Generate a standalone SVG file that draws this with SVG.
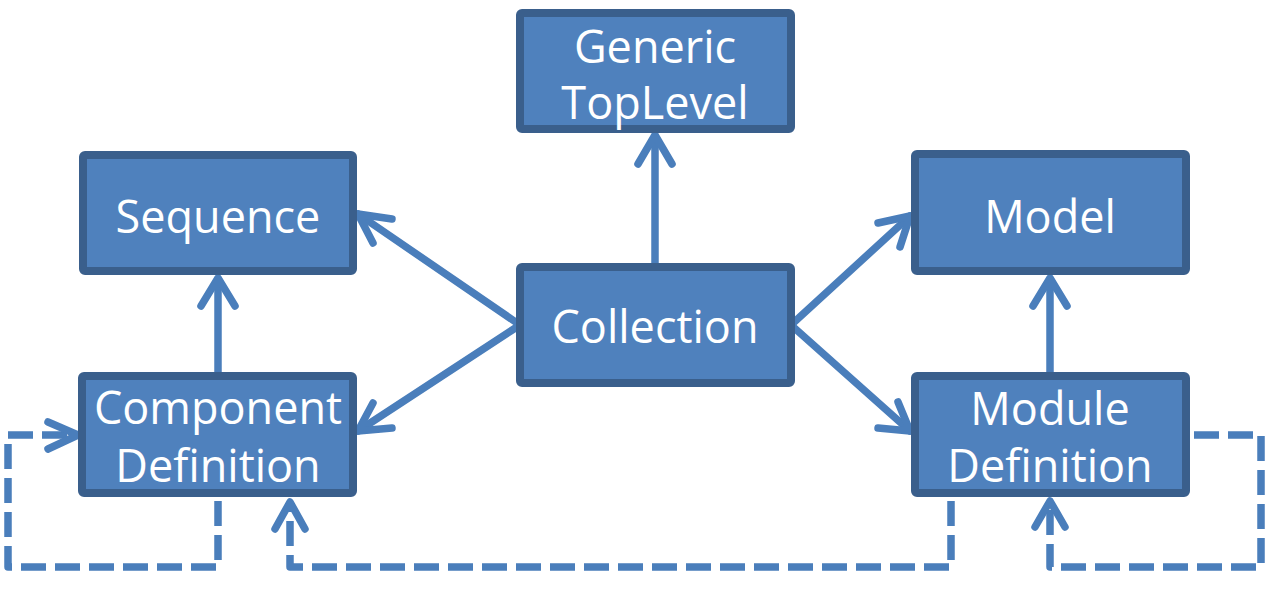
<svg xmlns="http://www.w3.org/2000/svg" width="1273" height="590" viewBox="0 0 1273 590">
<style>
.box{fill:#4F81BD;stroke:#3A5F8C;stroke-width:8;}
.lbl{font-family:"Open Sans","Liberation Sans",sans-serif;font-size:45px;fill:#FFFFFF;text-anchor:middle;}
.ln{fill:none;stroke:#4A7EBB;stroke-width:7.5;stroke-linecap:round;stroke-linejoin:round;}
.dash{fill:none;stroke:#4A7EBB;stroke-width:7.5;stroke-dasharray:25 9;stroke-linejoin:round;}
</style>
<rect width="1273" height="590" fill="#FFFFFF"/>
<g id="connectors">
<path class="ln" d="M655,263 L655,136"/>
<path class="ln" d="M638,164 L655,135 L672,164"/>
<path class="ln" d="M520,325 L358,214"/>
<path class="ln" d="M392,219 L358,214 L373,243"/>
<path class="ln" d="M520,325 L358,431"/>
<path class="ln" d="M373,403 L358,431 L392,428"/>
<path class="ln" d="M791,325 L910,216"/>
<path class="ln" d="M878,223 L910,216 L900,247"/>
<path class="ln" d="M791,325 L910,431"/>
<path class="ln" d="M898,402 L910,431 L878,428"/>
<path class="ln" d="M1050,372 L1050,279"/>
<path class="ln" d="M1033,306 L1050,278 L1067,306"/>
<path class="ln" d="M218,372 L218,279"/>
<path class="ln" d="M201,306 L218,278 L235,306"/>
<path class="dash" d="M218,501 L218,567 L8,567 L8,435 L74,435"/>
<path class="ln" d="M48,422 L78,435 L48,449"/>
<path class="dash" d="M951,501 L951,567 L290,567 L290,504"/>
<path class="ln" d="M275,529 L290,502 L305,529"/>
<path class="dash" d="M1194,435 L1261,435 L1261,567 L1050,567 L1050,504"/>
<path class="ln" d="M1035,527 L1050,501 L1065,527"/>
</g>
<g id="generic-toplevel">
<rect class="box" x="520" y="13" width="271" height="116" rx="2"/>
<text class="lbl" x="655" y="63">Generic</text>
<text class="lbl" x="655" y="119">TopLevel</text>
</g>
<g id="sequence">
<rect class="box" x="83" y="155" width="270" height="116" rx="2"/>
<text class="lbl" x="218" y="233">Sequence</text>
</g>
<g id="model">
<rect class="box" x="915" y="154" width="271" height="117" rx="2"/>
<text class="lbl" x="1050" y="233">Model</text>
</g>
<g id="collection">
<rect class="box" x="520" y="267" width="271" height="116" rx="2"/>
<text class="lbl" x="655" y="343">Collection</text>
</g>
<g id="component-definition">
<rect class="box" x="82" y="376" width="271" height="117" rx="2"/>
<text class="lbl" x="218" y="424">Component</text>
<text class="lbl" x="218" y="482">Definition</text>
</g>
<g id="module-definition">
<rect class="box" x="915" y="376" width="271" height="117" rx="2"/>
<text class="lbl" x="1050" y="425">Module</text>
<text class="lbl" x="1050" y="482">Definition</text>
</g>
</svg>
